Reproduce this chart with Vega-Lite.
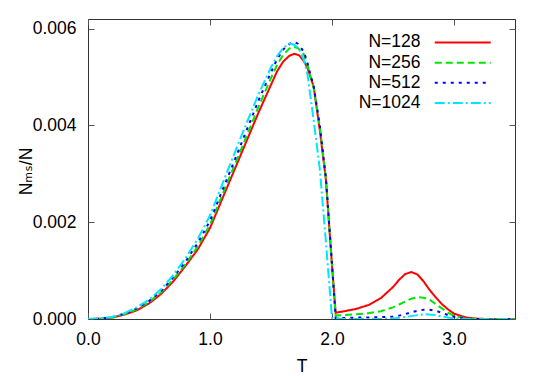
{
  "$schema": "https://vega.github.io/schema/vega-lite/v6.json",
  "width": 427,
  "height": 300,
  "autosize": {"type": "none"},
  "padding": {"left": 88, "top": 19, "right": 30, "bottom": 57},
  "config": {
    "view": {"stroke": "#333", "strokeWidth": 1},
    "font": "Liberation Sans"
  },
  "datasets": {
    "curves": [
      {"N":"N=128","T":0,"v":0},{"N":"N=128","T":0.1,"v":0.000005},{"N":"N=128","T":0.2,"v":0.00003},{"N":"N=128","T":0.3,"v":0.00009},{"N":"N=128","T":0.4,"v":0.00018},{"N":"N=128","T":0.5,"v":0.00032},{"N":"N=128","T":0.6,"v":0.00052},{"N":"N=128","T":0.7,"v":0.00078},{"N":"N=128","T":0.8,"v":0.0011},{"N":"N=128","T":0.9,"v":0.00144},{"N":"N=128","T":1.0,"v":0.00188},{"N":"N=128","T":1.1,"v":0.00248},{"N":"N=128","T":1.2,"v":0.00308},{"N":"N=128","T":1.3,"v":0.00368},{"N":"N=128","T":1.4,"v":0.00428},{"N":"N=128","T":1.5,"v":0.00484},{"N":"N=128","T":1.55,"v":0.00512},{"N":"N=128","T":1.6,"v":0.00532},{"N":"N=128","T":1.65,"v":0.00544},{"N":"N=128","T":1.69,"v":0.00548},{"N":"N=128","T":1.73,"v":0.00545},{"N":"N=128","T":1.77,"v":0.00533},{"N":"N=128","T":1.8,"v":0.00518},{"N":"N=128","T":1.85,"v":0.0048},{"N":"N=128","T":1.9,"v":0.0039},{"N":"N=128","T":1.95,"v":0.00288},{"N":"N=128","T":2.0,"v":0.0011},{"N":"N=128","T":2.03,"v":0.00013},{"N":"N=128","T":2.1,"v":0.00016},{"N":"N=128","T":2.2,"v":0.00021},{"N":"N=128","T":2.3,"v":0.00029},{"N":"N=128","T":2.4,"v":0.00043},{"N":"N=128","T":2.5,"v":0.00066},{"N":"N=128","T":2.55,"v":0.00081},{"N":"N=128","T":2.6,"v":0.00093},{"N":"N=128","T":2.65,"v":0.00097},{"N":"N=128","T":2.7,"v":0.00092},{"N":"N=128","T":2.75,"v":0.00078},{"N":"N=128","T":2.8,"v":0.0006},{"N":"N=128","T":2.85,"v":0.00045},{"N":"N=128","T":2.9,"v":0.00031},{"N":"N=128","T":2.95,"v":0.0002},{"N":"N=128","T":3.0,"v":0.00011},{"N":"N=128","T":3.1,"v":0.00003},{"N":"N=128","T":3.2,"v":0.000005},{"N":"N=128","T":3.3,"v":0},{"N":"N=128","T":3.5,"v":0},
      {"N":"N=256","T":0,"v":0},{"N":"N=256","T":0.1,"v":0.000005},{"N":"N=256","T":0.2,"v":0.00003},{"N":"N=256","T":0.3,"v":0.0001},{"N":"N=256","T":0.4,"v":0.0002},{"N":"N=256","T":0.5,"v":0.00035},{"N":"N=256","T":0.6,"v":0.00055},{"N":"N=256","T":0.7,"v":0.00082},{"N":"N=256","T":0.8,"v":0.00114},{"N":"N=256","T":0.9,"v":0.0015},{"N":"N=256","T":1.0,"v":0.00195},{"N":"N=256","T":1.1,"v":0.00256},{"N":"N=256","T":1.2,"v":0.00317},{"N":"N=256","T":1.3,"v":0.00378},{"N":"N=256","T":1.4,"v":0.0044},{"N":"N=256","T":1.5,"v":0.00498},{"N":"N=256","T":1.55,"v":0.00525},{"N":"N=256","T":1.6,"v":0.00546},{"N":"N=256","T":1.65,"v":0.00559},{"N":"N=256","T":1.68,"v":0.00563},{"N":"N=256","T":1.72,"v":0.0056},{"N":"N=256","T":1.77,"v":0.00547},{"N":"N=256","T":1.8,"v":0.00524},{"N":"N=256","T":1.85,"v":0.00478},{"N":"N=256","T":1.9,"v":0.00398},{"N":"N=256","T":1.95,"v":0.0029},{"N":"N=256","T":2.0,"v":0.00112},{"N":"N=256","T":2.03,"v":0.00007},{"N":"N=256","T":2.1,"v":0.00008},{"N":"N=256","T":2.2,"v":0.0001},{"N":"N=256","T":2.3,"v":0.00012},{"N":"N=256","T":2.4,"v":0.00016},{"N":"N=256","T":2.5,"v":0.00024},{"N":"N=256","T":2.55,"v":0.0003},{"N":"N=256","T":2.6,"v":0.00036},{"N":"N=256","T":2.65,"v":0.00042},{"N":"N=256","T":2.7,"v":0.00045},{"N":"N=256","T":2.75,"v":0.00044},{"N":"N=256","T":2.8,"v":0.0004},{"N":"N=256","T":2.85,"v":0.00031},{"N":"N=256","T":2.9,"v":0.00022},{"N":"N=256","T":2.95,"v":0.00013},{"N":"N=256","T":3.0,"v":0.00006},{"N":"N=256","T":3.1,"v":0.00001},{"N":"N=256","T":3.2,"v":0},{"N":"N=256","T":3.5,"v":0},
      {"N":"N=512","T":0,"v":0},{"N":"N=512","T":0.1,"v":0.000008},{"N":"N=512","T":0.2,"v":0.00004},{"N":"N=512","T":0.3,"v":0.00011},{"N":"N=512","T":0.4,"v":0.00022},{"N":"N=512","T":0.5,"v":0.00037},{"N":"N=512","T":0.6,"v":0.00058},{"N":"N=512","T":0.7,"v":0.00086},{"N":"N=512","T":0.8,"v":0.00119},{"N":"N=512","T":0.9,"v":0.00157},{"N":"N=512","T":1.0,"v":0.00203},{"N":"N=512","T":1.1,"v":0.00265},{"N":"N=512","T":1.2,"v":0.00327},{"N":"N=512","T":1.3,"v":0.0039},{"N":"N=512","T":1.4,"v":0.00453},{"N":"N=512","T":1.5,"v":0.0051},{"N":"N=512","T":1.55,"v":0.00537},{"N":"N=512","T":1.6,"v":0.00557},{"N":"N=512","T":1.65,"v":0.00568},{"N":"N=512","T":1.69,"v":0.00573},{"N":"N=512","T":1.72,"v":0.00569},{"N":"N=512","T":1.77,"v":0.00552},{"N":"N=512","T":1.8,"v":0.00528},{"N":"N=512","T":1.85,"v":0.0048},{"N":"N=512","T":1.9,"v":0.004},{"N":"N=512","T":1.95,"v":0.00292},{"N":"N=512","T":2.0,"v":0.00114},{"N":"N=512","T":2.03,"v":0.00002},{"N":"N=512","T":2.1,"v":0.00002},{"N":"N=512","T":2.2,"v":0.00003},{"N":"N=512","T":2.3,"v":0.00003},{"N":"N=512","T":2.4,"v":0.00004},{"N":"N=512","T":2.5,"v":0.00005},{"N":"N=512","T":2.55,"v":0.00007},{"N":"N=512","T":2.6,"v":0.0001},{"N":"N=512","T":2.65,"v":0.00014},{"N":"N=512","T":2.7,"v":0.00017},{"N":"N=512","T":2.75,"v":0.00019},{"N":"N=512","T":2.8,"v":0.00019},{"N":"N=512","T":2.85,"v":0.00017},{"N":"N=512","T":2.9,"v":0.00013},{"N":"N=512","T":2.95,"v":0.00008},{"N":"N=512","T":3.0,"v":0.00004},{"N":"N=512","T":3.1,"v":0.00001},{"N":"N=512","T":3.2,"v":0},{"N":"N=512","T":3.5,"v":0},
      {"N":"N=1024","T":0,"v":0},{"N":"N=1024","T":0.1,"v":0.00001},{"N":"N=1024","T":0.2,"v":0.00004},{"N":"N=1024","T":0.3,"v":0.00012},{"N":"N=1024","T":0.4,"v":0.00024},{"N":"N=1024","T":0.5,"v":0.0004},{"N":"N=1024","T":0.6,"v":0.00062},{"N":"N=1024","T":0.7,"v":0.00091},{"N":"N=1024","T":0.8,"v":0.00126},{"N":"N=1024","T":0.9,"v":0.00166},{"N":"N=1024","T":1.0,"v":0.00214},{"N":"N=1024","T":1.1,"v":0.00278},{"N":"N=1024","T":1.2,"v":0.00342},{"N":"N=1024","T":1.3,"v":0.00405},{"N":"N=1024","T":1.4,"v":0.00466},{"N":"N=1024","T":1.5,"v":0.0052},{"N":"N=1024","T":1.55,"v":0.00543},{"N":"N=1024","T":1.6,"v":0.0056},{"N":"N=1024","T":1.65,"v":0.00569},{"N":"N=1024","T":1.69,"v":0.00567},{"N":"N=1024","T":1.73,"v":0.00558},{"N":"N=1024","T":1.77,"v":0.00535},{"N":"N=1024","T":1.8,"v":0.00504},{"N":"N=1024","T":1.85,"v":0.0041},{"N":"N=1024","T":1.9,"v":0.0031},{"N":"N=1024","T":1.95,"v":0.0016},{"N":"N=1024","T":2.0,"v":0.00002},{"N":"N=1024","T":2.1,"v":0},{"N":"N=1024","T":2.4,"v":0},{"N":"N=1024","T":2.5,"v":0.00001},{"N":"N=1024","T":2.6,"v":0.00004},{"N":"N=1024","T":2.7,"v":0.00008},{"N":"N=1024","T":2.77,"v":0.0001},{"N":"N=1024","T":2.85,"v":0.00008},{"N":"N=1024","T":2.9,"v":0.00005},{"N":"N=1024","T":3.0,"v":0.00001},{"N":"N=1024","T":3.1,"v":0},{"N":"N=1024","T":3.5,"v":0}
    ]
  },
  "data": {"name": "curves"},
  "layer": [
    {
      "mark": {"type": "line", "strokeWidth": 2, "clip": true},
      "encoding": {
        "x": {
          "field": "T", "type": "quantitative",
          "scale": {"domain": [0, 3.5], "nice": false, "zero": false},
          "axis": {
            "orient": "bottom", "values": [0, 1, 2, 3], "format": ".1f",
            "domain": false, "grid": false, "tickSize": -6, "tickColor": "#555",
            "labelFlush": false, "labelFont": "Liberation Sans", "labelFontSize": 17.5,
            "labelColor": "#000", "labelPadding": 17,
            "title": "T", "titleFont": "Liberation Sans", "titleFontSize": 17.5,
            "titleFontWeight": "normal", "titleColor": "#000", "titlePadding": 10
          }
        },
        "y": {
          "field": "v", "type": "quantitative",
          "scale": {"domain": [0, 0.0062], "nice": false},
          "axis": {
            "orient": "left", "values": [0, 0.002, 0.004, 0.006], "format": ".3f",
            "domain": false, "grid": false, "tickSize": -6, "tickColor": "#555",
            "labelFont": "Liberation Sans", "labelFontSize": 17.5, "labelColor": "#000",
            "labelPadding": 18,
            "title": "Nₘₛ/N", "titleFont": "Liberation Sans, DejaVu Sans", "titleFontSize": 17.5,
            "titleFontWeight": "normal", "titleColor": "#000",
            "titleX": -57, "titleY": 152, "titleBaseline": "alphabetic", "titleAngle": -90
          }
        },
        "color": {
          "field": "N", "type": "nominal",
          "scale": {"domain": ["N=128", "N=256", "N=512", "N=1024"], "range": ["#ff0000", "#00e600", "#0000ff", "#00e5ff"]},
          "legend": {
            "orient": "none", "legendX": 345, "legendY": 14.7, "title": null,
            "labelFont": "Liberation Sans", "labelFontSize": 17.5, "labelColor": "#000",
            "labelAlign": "right", "labelOffset": -51, "labelLimit": 0,
            "symbolType": "M-4,0H4", "symbolSize": 196, "symbolStrokeWidth": 2, "symbolOffset": 21,
            "symbolFillColor": "transparent",
            "rowPadding": 1.2, "padding": 0
          }
        },
        "strokeDash": {
          "field": "N", "type": "nominal",
          "scale": {"domain": ["N=128", "N=256", "N=512", "N=1024"], "range": [[1, 0], [7, 4], [3, 5], [10, 3, 2, 3]]},
          "legend": {
            "orient": "none", "legendX": 345, "legendY": 14.7, "title": null,
            "labelFont": "Liberation Sans", "labelFontSize": 17.5, "labelColor": "#000",
            "labelAlign": "right", "labelOffset": -51, "labelLimit": 0,
            "symbolType": "M-4,0H4", "symbolSize": 196, "symbolStrokeWidth": 2, "symbolOffset": 21,
            "symbolFillColor": "transparent",
            "rowPadding": 1.2, "padding": 0
          }
        }
      }
    },
    {
      "mark": {"type": "line", "strokeOpacity": 0},
      "encoding": {
        "x": {
          "field": "T", "type": "quantitative",
          "axis": {"orient": "top", "values": [0, 1, 2, 3], "labels": false, "title": null, "domain": false, "grid": false, "tickSize": -6, "tickColor": "#555"}
        },
        "y": {
          "field": "v", "type": "quantitative",
          "axis": {"orient": "right", "values": [0, 0.002, 0.004, 0.006], "labels": false, "title": null, "domain": false, "grid": false, "tickSize": -6, "tickColor": "#555"}
        },
        "detail": {"field": "N"}
      }
    }
  ],
  "resolve": {"axis": {"x": "independent", "y": "independent"}}
}
